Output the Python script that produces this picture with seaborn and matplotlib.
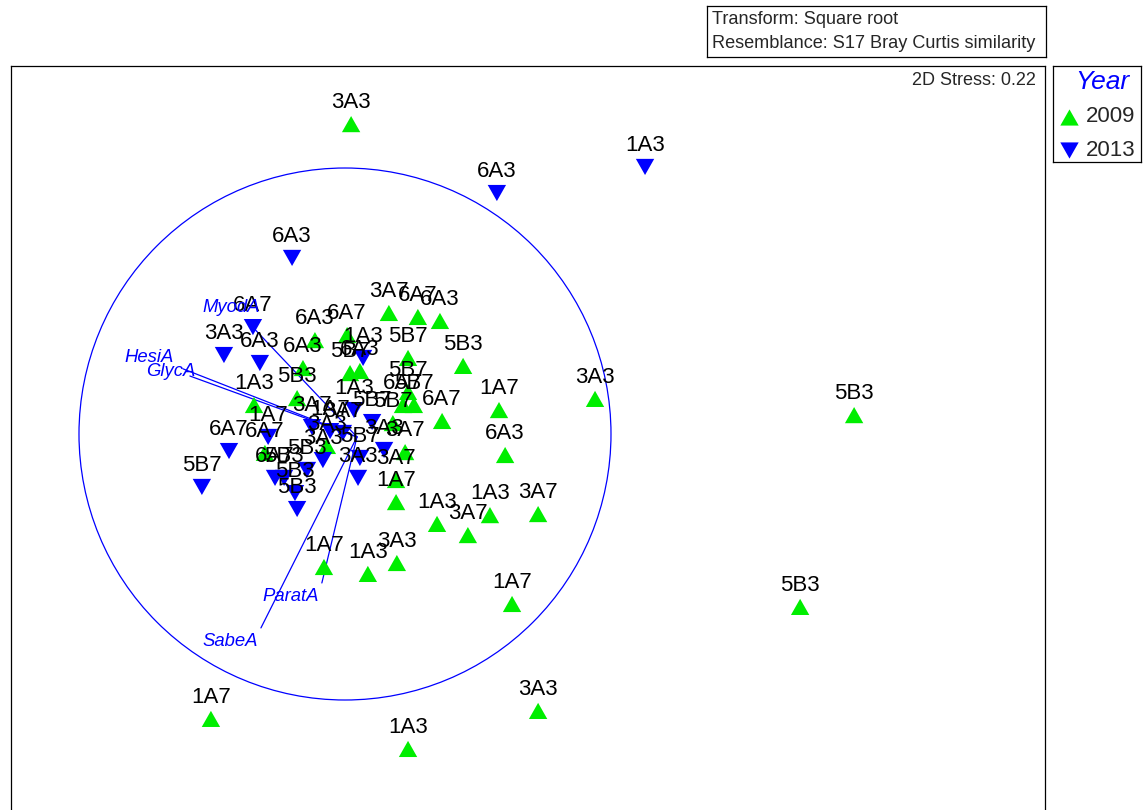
import matplotlib
matplotlib.use("Agg")
import matplotlib.pyplot as plt
from matplotlib.patches import Circle
import pandas as pd
import seaborn as sns

# nMDS ordination scores (square-root transform, Bray-Curtis similarity)
labels_2009 = ["3A3", "3A3", "5B3", "5B3", "1A7", "3A3", "1A3", "1A7", "1A7", "1A3",
               "3A3", "1A3", "3A7", "1A3", "3A7", "6A3", "1A7", "6A7", "5B3", "3A7",
               "6A7", "6A3", "5B7", "6A3", "6A7", "5B7", "6A3", "5B7", "6A7", "5B7",
               "5B3", "3A3", "5B7", "3A7", "3A7", "1A7", "1A3", "6A7", "6A3"]
mds1_2009 = [0.023, 0.940, 1.914, 1.711, 0.628, 0.726, 0.237, -0.504, -0.079, 0.086,
             0.195, 0.346, 0.462, 0.545, 0.726, 0.602, 0.579, 0.365, 0.444, 0.165,
             0.274, 0.357, 0.237, -0.113, 0.008, 0.019, 0.056, 0.237, 0.218, 0.259,
             -0.180, -0.068, 0.180, 0.226, 0.192, 0.192, -0.342, -0.301, -0.158]
mds2_2009 = [1.165, 0.132, 0.071, -0.650, -0.639, -1.041, -1.184, -1.071, -0.500, -0.526,
             -0.485, -0.338, -0.380, -0.305, -0.301, -0.079, 0.090, 0.049, 0.256, 0.455,
             0.440, 0.425, 0.286, 0.353, 0.372, 0.229, 0.237, 0.158, 0.109, 0.109,
             0.135, -0.045, 0.041, -0.068, -0.173, -0.256, 0.109, -0.071, 0.248]

labels_2013 = ["1A3", "6A3", "6A3", "6A7", "3A3", "6A3", "5B7", "6A7", "1A7", "1A3",
               "1A3", "3A7", "1A7", "3A7", "5B7", "3A3", "5B3", "6A7", "5B3", "5B3",
               "5B3", "5B7", "3A3", "3A3"]
mds1_2013 = [1.128, 0.571, -0.199, -0.346, -0.455, -0.320, -0.538, -0.436, -0.289, 0.068,
             0.034, -0.124, -0.056, -0.008, 0.102, -0.083, -0.143, -0.263, -0.229, -0.188,
             -0.180, 0.056, 0.049, 0.147]
mds2_2013 = [1.004, 0.906, 0.662, 0.402, 0.297, 0.267, -0.199, -0.064, -0.011, 0.286,
             0.090, 0.026, 0.011, 0.004, 0.045, -0.098, -0.135, -0.165, -0.165, -0.222,
             -0.282, -0.090, -0.165, -0.060]

# Species correlation vectors
vector_names = ["MyodA", "HesiA", "GlycA", "ParatA", "SabeA"]
vector_dx = [-0.410, -0.654, -0.628, -0.132, -0.361]
vector_dy = [0.432, 0.256, 0.229, -0.549, -0.718]
vector_origin = (0.045, -0.011)

years = ["2009", "2013"]
stress = 0.22
transform_note = "Transform: Square root"
resemblance_note = "Resemblance: S17 Bray Curtis similarity"

# ---------------------------------------------------------------- styling
sns.set_style("white")
plt.rcParams["font.family"] = ["Liberation Sans", "DejaVu Sans"]

GREEN = "#00EE00"
BLUE = "#0000FF"
UP = [(0, 0.88), (-1, -0.88), (1, -0.88)]
DOWN = [(0, -0.88), (-1, 0.88), (1, 0.88)]

df = pd.concat([
    pd.DataFrame({"MDS1": mds1_2009, "MDS2": mds2_2009, "Sample": labels_2009, "Year": years[0]}),
    pd.DataFrame({"MDS1": mds1_2013, "MDS2": mds2_2013, "Sample": labels_2013, "Year": years[1]}),
], ignore_index=True)

W, H, DPI = 1147, 810, 100
fig = plt.figure(figsize=(W / DPI, H / DPI), dpi=DPI)


def px_rect(x0, y0, x1, y1):
    return [x0 / W, 1 - y1 / H, (x1 - x0) / W, (y1 - y0) / H]


ax = fig.add_axes(px_rect(11, 66, 1045, 818))
ax.set_xlim(-1.2556, 2.6316)
ax.set_ylim(-1.4436, 1.3835)

sns.scatterplot(data=df, x="MDS1", y="MDS2", hue="Year", style="Year",
                markers={"2009": UP, "2013": DOWN},
                palette={"2009": GREEN, "2013": BLUE},
                s=175, linewidth=0, edgecolor="none", legend=False, ax=ax, zorder=3)

for _, r in df.iterrows():
    ax.annotate(r["Sample"], (r["MDS1"], r["MDS2"]), xytext=(0, 16),
                textcoords="offset pixels", ha="center", va="baseline",
                fontsize=16, color="black", zorder=4)

# correlation circle and vectors
ax.add_patch(Circle((0, 0), 1.0, fill=False, edgecolor=BLUE, linewidth=0.9, zorder=2))
name_offsets = {"MyodA": (-17, 15), "HesiA": (-34, 11), "GlycA": (-19, 5),
                "ParatA": (-31, -14), "SabeA": (-31, -14)}
ox, oy = vector_origin
for name, dx, dy in zip(vector_names, vector_dx, vector_dy):
    ax.plot([ox, ox + dx], [oy, oy + dy], color=BLUE, linewidth=0.9, zorder=2)
    ax.annotate(name, (ox + dx, oy + dy), xytext=name_offsets[name],
                textcoords="offset pixels", ha="center", va="center",
                fontsize=13.3, style="italic", color=BLUE, zorder=4)

ax.text(0.9915, 0.981, f"2D Stress: {stress}", transform=ax.transAxes,
        ha="right", va="center", fontsize=13)

ax.set_xticks([])
ax.set_yticks([])
ax.set_xlabel("")
ax.set_ylabel("")
for sp in ax.spines.values():
    sp.set_visible(True)
    sp.set_color("black")
    sp.set_linewidth(0.9)

# legend panel
lax = fig.add_axes(px_rect(1053, 66, 1141, 162))
lax.set_xlim(0, 88)
lax.set_ylim(96, 0)
lax.set_xticks([])
lax.set_yticks([])
for sp in lax.spines.values():
    sp.set_color("black")
    sp.set_linewidth(0.9)
lax.text(49, 16, "Year", ha="center", va="center", fontsize=19,
         style="italic", color=BLUE)
for yy, yr, mk, col in [(51, years[0], UP, GREEN), (84, years[1], DOWN, BLUE)]:
    lax.scatter([16], [yy], marker=mk, s=175, color=col, linewidth=0)
    lax.text(33, yy, yr, ha="left", va="center", fontsize=16)

# analysis note box
nax = fig.add_axes(px_rect(707, 6, 1046, 57))
nax.set_xlim(0, 339)
nax.set_ylim(51, 0)
nax.set_xticks([])
nax.set_yticks([])
for sp in nax.spines.values():
    sp.set_color("black")
    sp.set_linewidth(0.9)
nax.text(5, 13, transform_note, ha="left", va="center", fontsize=13.1)
nax.text(5, 38, resemblance_note, ha="left", va="center", fontsize=13.1)

fig.savefig("out.png", dpi=DPI)
